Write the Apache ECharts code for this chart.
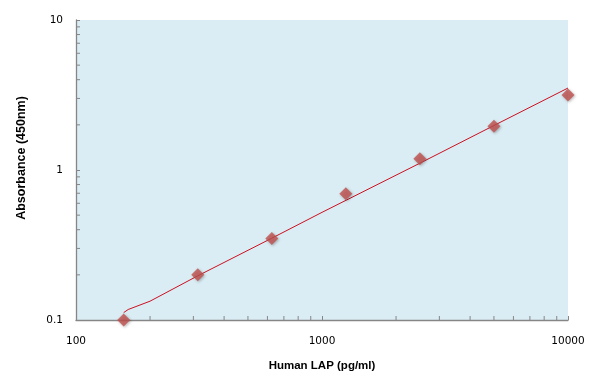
<!DOCTYPE html>
<html>
<head>
<meta charset="utf-8">
<script src="https://cdn.jsdelivr.net/npm/echarts@6/dist/echarts.min.js"></script>
<style>html,body{margin:0;padding:0;background:#fff}#c{width:596px;height:390px}</style>
</head>
<body>
<div id="c"></div>
<script>
// Data
var concentrations = [156.25, 312.5, 625, 1250, 2500, 5000, 10000];
var absorbance = [0.1, 0.2, 0.35, 0.695, 1.19, 1.96, 3.16];
// Fitted curve
var fitX = [156.25, 163, 200, 312.5, 625, 1000, 2500, 5000, 10000];
var fitY = [0.112, 0.1175, 0.1335, 0.197, 0.351, 0.522, 1.11, 1.98, 3.52];
// Minor tick values
var xMinorTicks = [200, 300, 400, 500, 600, 700, 800, 900, 2000, 3000, 4000, 5000, 6000, 7000, 8000, 9000];
var yMinorTicks = [0.2, 0.3, 0.4, 0.5, 0.6, 0.7, 0.8, 0.9, 2, 3, 4, 5, 6, 7, 8, 9];
var xTitle = 'Human LAP (pg/ml)';
var yTitle = 'Absorbance (450nm)';

var chart = echarts.init(document.getElementById('c'), null, {renderer: 'canvas'});
var axisColor = '#868686';
var labelFont = {fontFamily: 'DejaVu Sans', fontSize: 10.5, color: '#000'};

function pairs(xs, ys) { return xs.map(function (x, i) { return [x, ys[i]]; }); }

chart.setOption({
  animation: false,
  grid: {left: 76, right: 28, top: 20, bottom: 70, show: true, backgroundColor: '#dbedf4', borderWidth: 0},
  xAxis: {
    type: 'log', logBase: 10, min: 100, max: 10000,
    name: xTitle, nameLocation: 'middle', nameGap: 40,
    nameTextStyle: {fontFamily: 'Liberation Sans', fontWeight: 'bold', fontSize: 11.5, color: '#000'},
    axisLine: {lineStyle: {color: axisColor, width: 1.3}},
    axisTick: {inside: true, length: 4, lineStyle: {color: axisColor}},
    axisLabel: Object.assign({margin: 16, formatter: function (v) { return String(v); }}, labelFont),
    splitLine: {show: false}
  },
  yAxis: {
    type: 'log', logBase: 10, min: 0.1, max: 10,
    name: yTitle, nameLocation: 'middle', nameGap: 48,
    nameTextStyle: {fontFamily: 'Liberation Sans', fontWeight: 'bold', fontSize: 12.5, color: '#000', padding: [0, 0, 0, 24]},
    axisLine: {show: true, lineStyle: {color: axisColor, width: 1.3}},
    axisTick: {show: true, inside: true, length: 4, lineStyle: {color: axisColor}},
    axisLabel: Object.assign({margin: 13, formatter: function (v) { return String(v); }}, labelFont),
    splitLine: {show: false}
  },
  series: [
    {
      type: 'custom', silent: true, z: 1,
      data: xMinorTicks.map(function (v) { return [v, 0.1]; }),
      renderItem: function (params, api) {
        var p = api.coord([api.value(0), api.value(1)]);
        return {type: 'line', shape: {x1: p[0], y1: p[1], x2: p[0], y2: p[1] - 4}, style: {stroke: axisColor, lineWidth: 1}};
      }
    },
    {
      type: 'custom', silent: true, z: 1,
      data: yMinorTicks.map(function (v) { return [100, v]; }),
      renderItem: function (params, api) {
        var p = api.coord([api.value(0), api.value(1)]);
        return {type: 'line', shape: {x1: p[0], y1: p[1], x2: p[0] + 4, y2: p[1]}, style: {stroke: axisColor, lineWidth: 1}};
      }
    },
    {
      type: 'line', data: pairs(fitX, fitY), smooth: false, showSymbol: false, z: 2,
      lineStyle: {color: '#cc1020', width: 1}
    },
    {
      type: 'scatter', data: pairs(concentrations, absorbance), symbol: 'diamond', symbolSize: 13, z: 3,
      itemStyle: {color: '#c0504d', shadowBlur: 3, shadowColor: 'rgba(0,0,0,0.35)', shadowOffsetX: 1, shadowOffsetY: 1}
    }
  ]
});
</script>
</body>
</html>
